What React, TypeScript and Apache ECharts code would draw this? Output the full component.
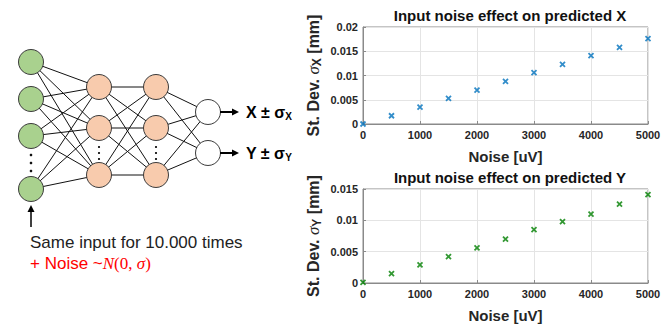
import React, { useEffect, useRef } from "react";
import * as echarts from "echarts";

const noise = [0, 500, 1000, 1500, 2000, 2500, 3000, 3500, 4000, 4500, 5000];
const sigmaX = [0, 0.0017, 0.0035, 0.0053, 0.007, 0.0088, 0.0106, 0.0123, 0.0141, 0.0158, 0.0176];
const sigmaY = [0.0001, 0.0015, 0.0029, 0.0042, 0.0056, 0.007, 0.0085, 0.0098, 0.011, 0.0126, 0.0141];
const titles = ["Input noise effect on predicted X", "Input noise effect on predicted Y"];
const xTicks = { min: 0, max: 5000, interval: 1000 };
const yTicksX = { min: 0, max: 0.02, interval: 0.005 };
const yTicksY = { min: 0, max: 0.015, interval: 0.005 };

const inputLayer = [62, 99, 136, 189];
const hidden1 = [87, 128, 175];
const hidden2 = [87, 128, 175];
const outputLayer = [112, 153];
const layerX = [31, 99, 156, 208];

const FONT = "Liberation Sans, Arial, Helvetica, sans-serif";

function buildGraphic() {
  const els: any[] = [];
  const layers = [inputLayer, hidden1, hidden2, outputLayer];
  for (let l = 0; l < 3; l++) {
    for (const y1 of layers[l]) {
      for (const y2 of layers[l + 1]) {
        els.push({
          type: "line",
          shape: { x1: layerX[l], y1, x2: layerX[l + 1], y2 },
          style: { stroke: "#111", lineWidth: 1 },
        });
      }
    }
  }
  const fills = ["#a9d18e", "#f8cbad", "#f8cbad", "#ffffff"];
  layers.forEach((ys, l) => {
    ys.forEach((y) => {
      els.push({
        type: "circle",
        shape: { cx: layerX[l], cy: y, r: 12.5 },
        style: { fill: fills[l], stroke: "#3a3a3a", lineWidth: 1 },
      });
    });
  });
  [155, 163, 171].forEach((y) =>
    els.push({ type: "circle", shape: { cx: layerX[0], cy: y, r: 1.3 }, style: { fill: "#111" } })
  );
  [1, 2].forEach((l) =>
    [147, 153, 159].forEach((y) =>
      els.push({ type: "circle", shape: { cx: layerX[l], cy: y, r: 1.1 }, style: { fill: "#111" } })
    )
  );
  outputLayer.forEach((y) => {
    els.push({ type: "line", shape: { x1: 220, y1: y, x2: 233, y2: y }, style: { stroke: "#000", lineWidth: 2 } });
    els.push({ type: "polygon", shape: { points: [[232, y - 3.5], [239, y], [232, y + 3.5]] }, style: { fill: "#000" } });
  });
  const outLabels = [
    ["X", "X"],
    ["Y", "Y"],
  ];
  outputLayer.forEach((y, i) => {
    els.push({
      type: "text",
      x: 246,
      y,
      style: {
        text: `{a|${outLabels[i][0]} ± σ}{s|${outLabels[i][1]}}`,
        verticalAlign: "middle",
        rich: {
          a: { fontSize: 16, fontWeight: "bold", fontFamily: FONT, fill: "#000" },
          s: { fontSize: 10, fontWeight: "bold", fontFamily: FONT, fill: "#000", padding: [8, 0, 0, 0] },
        },
      },
    });
  });
  els.push({ type: "line", shape: { x1: 31, y1: 227, x2: 31, y2: 211 }, style: { stroke: "#000", lineWidth: 1.5 } });
  els.push({ type: "polygon", shape: { points: [[27.5, 212], [31, 205], [34.5, 212]] }, style: { fill: "#000" } });
  els.push({
    type: "text",
    x: 30,
    y: 242,
    style: {
      text: "Same input for 10.000 times",
      fontSize: 17,
      fontFamily: FONT,
      fill: "#222",
      verticalAlign: "middle",
    },
  });
  els.push({
    type: "text",
    x: 30,
    y: 263,
    style: {
      text: "{a|+ Noise ~}{n|N}{p|(0, }{g|σ}{p|)}",
      verticalAlign: "middle",
      rich: {
        a: { fontSize: 17, fontFamily: FONT, fill: "#ff0000" },
        n: { fontSize: 17, fontFamily: "Liberation Serif, serif", fontStyle: "italic", fill: "#ff0000" },
        p: { fontSize: 17, fontFamily: "Liberation Serif, serif", fill: "#ff0000" },
        g: { fontSize: 17, fontFamily: "Liberation Serif, serif", fontStyle: "italic", fill: "#ff0000" },
      },
    },
  });
  return els;
}

function yName(sub: string) {
  return `{a|St. Dev. }{g|σ}{s|${sub}}{a| [mm]}`;
}

export default function App() {
  const ref = useRef<HTMLDivElement>(null);
  useEffect(() => {
    document.body.style.margin = "0";
    const chart = echarts.init(ref.current!, undefined, { renderer: "svg" });
    const tickLabel = { color: "#262626", fontWeight: "bold", fontSize: 11, fontFamily: FONT };
    const axisLine = { show: true, lineStyle: { color: "#8a8a8a", width: 1 } };
    const splitLine = { show: true, lineStyle: { color: "#e4e4e4", width: 1 } };
    const nameRich = {
      a: { fontSize: 16, fontWeight: "bold", fontFamily: FONT, color: "#262626" },
      g: { fontSize: 17, fontStyle: "italic", fontFamily: "Liberation Serif, serif", color: "#262626" },
      s: { fontSize: 12, fontWeight: "bold", fontFamily: FONT, color: "#262626", padding: [8, 0, 0, 0] },
    };
    const grids = [
      { left: 363, width: 285, top: 27, height: 97, show: true, borderColor: "#8a8a8a", borderWidth: 1, backgroundColor: "#fff" },
      { left: 363, width: 285, top: 189, height: 97, show: true, borderColor: "#8a8a8a", borderWidth: 1, backgroundColor: "#fff" },
    ];
    const xAxes = [0, 1].map((i) => ({
      type: "value",
      gridIndex: i,
      ...xTicks,
      name: "Noise [uV]",
      nameLocation: "middle",
      nameGap: 25,
      nameTextStyle: { fontSize: 15, fontWeight: "bold", fontFamily: FONT, color: "#262626" },
      axisLine,
      axisTick: { show: true, inside: true, length: 3, lineStyle: { color: "#8a8a8a" } },
      splitLine,
      axisLabel: { ...tickLabel, margin: 5, formatter: (v: number) => String(v) },
    }));
    const yAxes = [yTicksX, yTicksY].map((t, i) => ({
      type: "value",
      gridIndex: i,
      ...t,
      name: yName(i === 0 ? "X" : "Y"),
      nameLocation: "middle",
      nameGap: 40,
      nameRotate: 90,
      nameTextStyle: { rich: nameRich },
      axisLine,
      axisTick: { show: true, inside: true, length: 3, lineStyle: { color: "#8a8a8a" } },
      splitLine,
      axisLabel: { ...tickLabel, margin: 5, formatter: (v: number) => String(v) },
    }));
    const xMark = "path://M0,0L10,10M10,0L0,10";
    const mk = (data: number[], color: string, i: number) => ({
      type: "scatter",
      xAxisIndex: i,
      yAxisIndex: i,
      data: noise.map((n, k) => [n, data[k]]),
      symbol: xMark,
      symbolSize: 5,
      itemStyle: { color: color, borderColor: color, borderWidth: 1.8 },
      clip: false,
    });
    const titleStyle = { fontSize: 15, fontWeight: "bold", fontFamily: FONT, color: "#111" };
    chart.setOption({
      animation: false,
      backgroundColor: "#fff",
      title: [
        { text: titles[0], left: 505, top: 3, textAlign: "center", textStyle: titleStyle },
        { text: titles[1], left: 505, top: 165, textAlign: "center", textStyle: titleStyle },
      ],
      grid: grids,
      xAxis: xAxes,
      yAxis: yAxes,
      series: [mk(sigmaX, "#0072BD", 0), mk(sigmaY, "#008000", 1)],
      graphic: buildGraphic(),
    });
    return () => chart.dispose();
  }, []);
  return <div ref={ref} style={{ width: 668, height: 324 }} />;
}
